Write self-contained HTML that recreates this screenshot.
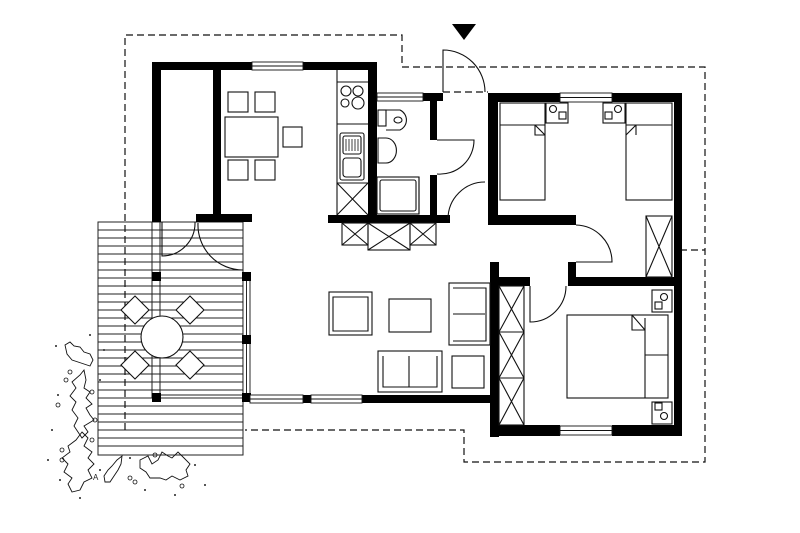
<!DOCTYPE html>
<html><head><meta charset="utf-8"><style>html,body{margin:0;padding:0;background:#fff;width:800px;height:533px;overflow:hidden}</style></head>
<body>
<svg width="800" height="533" viewBox="0 0 800 533" xmlns="http://www.w3.org/2000/svg">
<g fill="none" stroke="#111" stroke-width="1">
<g stroke="#222" stroke-width="1">
<rect x="98" y="222" width="145" height="233"/>
<path d="M98 230H243M98 238H243M98 246H243M98 254H243M98 262H243M98 270H243M98 278H243M98 286H243M98 294H243M98 302H243M98 310H243M98 318H243M98 326H243M98 334H243M98 342H243M98 350H243M98 358H243M98 366H243M98 374H243M98 382H243M98 390H243M98 398H243M98 406H243M98 414H243M98 422H243M98 430H243M98 438H243M98 446H243"/>
<path d="M152 222V398M160 222V395H243"/>
</g>
<path stroke-dasharray="7,4" stroke-width="1.2" d="M125 430V35H402V67H705V462H464V430H245M443 92H488M680 250H705"/>
</g>
<g fill="#fff" stroke="#111" stroke-width="1.1">
<circle cx="162" cy="337" r="21"/>
<path d="M135 296L149 310L135 324L121 310Z M190 296L204 310L190 324L176 310Z M135 351L149 365L135 379L121 365Z M190 351L204 365L190 379L176 365Z"/>
</g>
<g stroke="#111" stroke-width="0.9" fill="#fff">
<rect x="243" y="275" width="7" height="122"/><path d="M246.5 275V397"/>
</g>
<g fill="#000">
<rect x="152" y="62" width="100" height="8"/><rect x="303" y="62" width="73" height="8"/>
<rect x="152" y="62" width="9" height="160"/>
<rect x="213" y="66" width="8" height="152"/>
<rect x="196" y="214" width="56" height="8"/>
<rect x="368" y="62" width="9" height="160"/>
<rect x="328" y="215" width="122" height="8"/>
<rect x="423" y="93" width="20" height="8"/>
<rect x="430" y="93" width="7" height="47"/><rect x="430" y="175" width="7" height="48"/>
<rect x="488" y="93" width="72" height="9"/><rect x="612" y="93" width="70" height="9"/>
<rect x="488" y="93" width="10" height="132"/>
<rect x="488" y="215" width="88" height="10"/>
<rect x="674" y="93" width="8" height="343"/>
<rect x="568" y="262" width="8" height="24"/>
<rect x="568" y="277" width="114" height="9"/>
<rect x="490" y="262" width="9" height="175"/>
<rect x="490" y="277" width="40" height="9"/>
<rect x="490" y="425" width="70" height="11"/><rect x="612" y="425" width="70" height="11"/>
<rect x="362" y="395" width="136" height="8"/>
<rect x="303" y="395" width="8" height="8"/>
<rect x="152" y="272" width="9" height="9"/><rect x="242" y="272" width="9" height="9"/>
<rect x="242" y="335" width="9" height="9"/><rect x="152" y="393" width="9" height="9"/><rect x="242" y="393" width="9" height="9"/>
<polygon points="452,24 476,24 464,40"/>
</g>
<g stroke="#111" stroke-width="0.9" fill="#fff">
<rect x="252" y="62" width="51" height="8"/><path d="M252 66H303"/>
<rect x="377" y="93" width="46" height="8"/><path d="M377 97H423"/>
<rect x="560" y="93" width="52" height="9"/><path d="M560 97.5H612"/>
<rect x="560" y="426" width="52" height="9"/><path d="M560 430.5H612"/>
<rect x="250" y="395" width="53" height="8"/><path d="M250 399H303"/>
<rect x="311" y="395" width="51" height="8"/><path d="M311 399H362"/>
</g>
<g fill="none" stroke="#111" stroke-width="1.1">
<path d="M443 92V50A42 42 0 0 1 485 92"/>
<path d="M437 140H474A34 34 0 0 1 437 174"/>
<path d="M448 219A37 37 0 0 1 485 182"/>
<path d="M576 225A37 37 0 0 1 612 262H576"/>
<path d="M530 286V322A36 36 0 0 0 566 286"/>
<path d="M162 222V256A33 33 0 0 0 195 222"/>
<path d="M198 223A45 45 0 0 0 243 270"/>
<rect x="225" y="117" width="53" height="40"/>
<rect x="228" y="92" width="20" height="20"/><rect x="255" y="92" width="20" height="20"/>
<rect x="283" y="127" width="19" height="20"/>
<rect x="228" y="160" width="20" height="20"/><rect x="255" y="160" width="20" height="20"/>
<path d="M337 70V215M337 82H368M337 124H368M337 183H368M337 183L368 215M368 183L337 215"/>
<circle cx="346" cy="91" r="5"/><circle cx="358" cy="91" r="5"/><circle cx="345" cy="103" r="4"/><circle cx="358" cy="103" r="6"/>
<rect x="340" y="133" width="24" height="47" rx="2"/>
<rect x="343" y="136" width="18" height="18" rx="2"/><rect x="343" y="158" width="18" height="19" rx="3"/>
<path d="M346 139V151M349 139V151M352 139V151M355 139V151M358 139V151" stroke-width="0.8"/>
<rect x="378" y="110" width="8" height="16"/>
<path d="M386 110H400A11 11 0 0 1 400 130H386"/><ellipse cx="398" cy="120" rx="4" ry="3"/>
<path d="M378 138H386A10 12 0 0 1 386 163H378Z"/>
<rect x="377" y="177" width="42" height="37"/><rect x="380" y="180" width="36" height="31" rx="2"/>
<path d="M419 177V214"/>
<rect x="342" y="223" width="26" height="22"/><path d="M342 223L368 245M368 223L342 245"/>
<rect x="368" y="223" width="42" height="27"/><path d="M368 223L410 250M410 223L368 250"/>
<rect x="410" y="223" width="26" height="22"/><path d="M410 223L436 245M436 223L410 245"/>
<rect x="500" y="103" width="45" height="97"/><path d="M500 125H545M535 125V135L545 135"/><path d="M535 125L545 135"/>
<rect x="626" y="103" width="46" height="97"/><path d="M626 125H672M636 125L626 135M636 125V135"/>
<rect x="546" y="103" width="22" height="20"/><circle cx="553" cy="109" r="3.5"/><rect x="559" y="112" width="7" height="7"/>
<rect x="603" y="103" width="22" height="20"/><circle cx="618" cy="109" r="3.5"/><rect x="605" y="112" width="7" height="7"/>
<rect x="646" y="216" width="26" height="61"/><path d="M646 216L672 277M672 216L646 277"/>
<rect x="499" y="286" width="25" height="139"/><path d="M499 332H524M499 378H524M499 286L524 332M524 286L499 332M499 332L524 378M524 332L499 378M499 378L524 425M524 378L499 425"/>
<rect x="567" y="315" width="101" height="83"/><path d="M645 318V398M645 355H668M632 315V330H645M632 315L645 330"/>
<rect x="652" y="290" width="20" height="22"/><circle cx="664" cy="297" r="3.5"/><rect x="655" y="302" width="7" height="7"/>
<rect x="652" y="402" width="20" height="22"/><circle cx="664" cy="416" r="3.5"/><rect x="655" y="403" width="7" height="7"/>
<rect x="329" y="292" width="43" height="43"/><path d="M333 297H368V331H333Z"/>
<rect x="389" y="299" width="42" height="33"/>
<rect x="449" y="283" width="41" height="62"/><path d="M453 288H486V341H453M453 314H485"/>
<rect x="378" y="351" width="64" height="41"/><path d="M383 356V387H437V356M409 356V387"/>
<rect x="452" y="356" width="32" height="32"/>
<g stroke-width="0.9">
<path d="M65 345L70 342L74 346L80 347L84 352L90 354L93 360L90 366L84 364L78 362L72 360L67 354Z"/>
<path d="M80 375L84 370L86 380L84 388L90 392L86 398L92 404L86 408L90 415L94 420L84 426L88 432L82 438L78 432L74 426L78 418L72 410L76 402L70 396L76 388L72 382Z"/>
<path d="M82 432L88 438L84 446L92 452L88 458L94 464L88 470L92 478L84 482L80 490L72 492L68 484L72 478L64 472L68 464L62 458L70 452L68 446L76 440Z"/>
<path d="M117 460L122 456L121 464L118 470L114 476L110 482L105 482L104 476L108 470L112 466Z"/>
<path d="M140 460L148 456L152 464L158 460L162 452L168 456L172 458L178 452L184 458L190 464L186 470L188 476L180 480L172 476L166 480L160 478L150 478L146 472L140 468Z"/>
</g>
<g stroke-width="0.8">
<circle cx="70" cy="372" r="2"/><circle cx="66" cy="380" r="2"/><circle cx="92" cy="392" r="2"/><circle cx="95" cy="420" r="2"/><circle cx="92" cy="440" r="2"/><circle cx="62" cy="460" r="2"/><circle cx="130" cy="478" r="2"/><circle cx="135" cy="482" r="2"/><circle cx="155" cy="455" r="2"/><circle cx="182" cy="486" r="2"/><circle cx="58" cy="405" r="2"/><circle cx="62" cy="450" r="2"/>
</g>
</g>
<g fill="#222">
<circle cx="56" cy="346" r="1"/><circle cx="90" cy="335" r="1"/><circle cx="104" cy="350" r="1"/><circle cx="58" cy="395" r="1"/><circle cx="100" cy="380" r="1"/><circle cx="52" cy="430" r="1"/><circle cx="60" cy="480" r="1"/><circle cx="100" cy="470" r="1"/><circle cx="130" cy="458" r="1"/><circle cx="145" cy="490" r="1"/><circle cx="195" cy="465" r="1"/><circle cx="205" cy="485" r="1"/><circle cx="175" cy="495" r="1"/><circle cx="80" cy="498" r="1"/><circle cx="48" cy="460" r="1"/>
</g>
<text x="93" y="480" font-family="Liberation Sans, sans-serif" font-size="8" fill="#222">A</text>
</svg>
</body></html>
